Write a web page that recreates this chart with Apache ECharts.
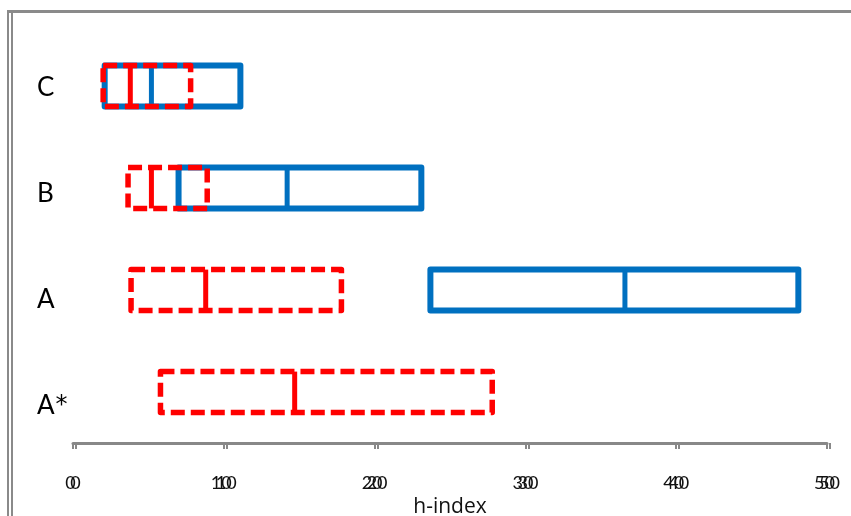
<!DOCTYPE html>
<html><head><meta charset="utf-8">
<script src="https://cdn.jsdelivr.net/npm/echarts@6/dist/echarts.min.js"></script>
<style>html,body{margin:0;padding:0;background:#fff}#c{width:851px;height:516px}</style>
</head><body><div id="c"></div>
<script>
const categories = ['A*', 'A', 'B', 'C'];
const xTicks = [0, 10, 20, 30, 40, 50];
// [q1, median, q3] per category (null = no box)
const blueBoxes = [null, [23.7, 36.6, 48.1], [7.0, 14.2, 23.1], [2.1, 5.2, 11.1]];
const redBoxes = [[5.8, 14.7, 27.8], [3.85, 8.8, 17.8], [3.65, 5.2, 8.9], [2.0, 3.8, 7.8]];

function toData(boxes) {
  const out = [];
  boxes.forEach((b, i) => { if (b) out.push([i, b[0], b[1], b[2]]); });
  return out;
}
function makeRender(color, dashed) {
  return function (params, api) {
    const ci = api.value(0);
    const p1 = api.coord([api.value(1), ci]);
    const pm = api.coord([api.value(2), ci]);
    const p3 = api.coord([api.value(3), ci]);
    const h = api.size([0, 1])[1] * 0.4;
    const style = { stroke: color, fill: null, lineWidth: dashed ? 5.5 : 6, lineDash: dashed ? [14, 6] : null, lineJoin: 'round' };
    return {
      type: 'group',
      children: [
        { type: 'rect', shape: { x: p1[0], y: p1[1] - h / 2, width: p3[0] - p1[0], height: h }, style: style },
        { type: 'line', shape: { x1: pm[0], y1: pm[1] - h / 2, x2: pm[0], y2: pm[1] + h / 2 }, style: Object.assign({}, style, { lineDash: null, lineWidth: 5 }) }
      ]
    };
  };
}
const labelFont = { margin: 31, fontFamily: 'Lato', fontSize: 18, color: '#111' };
const chart = echarts.init(document.getElementById('c'), null, { renderer: 'canvas' });
chart.setOption({
  animation: false,
  backgroundColor: '#fff',
  grid: [
    { left: 73, right: 24, top: 35, bottom: 73, outerBoundsMode: 'none', containLabel: false },
    { left: 73, right: 24, top: 34.5, bottom: 57.5, outerBoundsMode: 'none', containLabel: false }
  ],
  xAxis: [
    {
      type: 'value', min: 0, max: 50, interval: 10, gridIndex: 0,
      name: 'h-index', nameLocation: 'middle', nameGap: 47,
      nameTextStyle: { fontFamily: 'Open Sans', fontSize: 21, color: '#111' },
      axisLine: { show: true, lineStyle: { color: '#888', width: 3 } },
      axisTick: { show: true, length: 6, inside: false, lineStyle: { color: '#888', width: 2, shadowColor: '#888', shadowOffsetX: 3, shadowBlur: 0.5 } },
      axisLabel: Object.assign({ padding: [0, 5, 0, 0], formatter: v => xTicks.indexOf(v) >= 0 ? String(v) : '' }, labelFont),
      splitLine: { show: false }
    },
    {
      type: 'value', min: 0, max: 50, interval: 10, gridIndex: 0, position: 'bottom',
      axisLine: { show: false }, axisTick: { show: false },
      axisLabel: Object.assign({ padding: [0, 0, 0, 5], formatter: v => xTicks.indexOf(v) >= 0 ? String(v) : '' }, labelFont),
      splitLine: { show: false }
    },
    { type: 'value', min: 0, max: 50, gridIndex: 1, show: false }
  ],
  yAxis: [
    {
      type: 'category', data: categories, gridIndex: 0,
      axisLine: { show: false }, axisTick: { show: false }, axisLabel: { show: false },
      splitLine: { show: false }
    },
    {
      type: 'category', data: categories, gridIndex: 1,
      axisLine: { show: false }, axisTick: { show: false },
      axisLabel: {
        align: 'left', margin: 36, fontFamily: 'Lato', fontSize: 26, color: '#000',
        formatter: v => v.replace('*', '{s|*}'),
        rich: { s: { fontFamily: 'DejaVu Sans', fontSize: 24, color: '#000', padding: [0, 0, 0, 1] } }
      },
      splitLine: { show: false }
    }
  ],
  series: [
    { type: 'custom', xAxisIndex: 0, yAxisIndex: 0, renderItem: makeRender('#0070C0', false), data: toData(blueBoxes), encode: { x: [1, 2, 3], y: 0 }, z: 2 },
    { type: 'custom', xAxisIndex: 0, yAxisIndex: 0, renderItem: makeRender('#FF0000', true), data: toData(redBoxes), encode: { x: [1, 2, 3], y: 0 }, z: 3 }
  ],
  graphic: [
    { type: 'rect', shape: { x: 7, y: 10, width: 844, height: 3 }, style: { fill: '#8a8a8a' }, silent: true },
    { type: 'rect', shape: { x: 7, y: 10, width: 2, height: 506 }, style: { fill: '#8a8a8a' }, silent: true },
    { type: 'rect', shape: { x: 11, y: 13, width: 2, height: 503 }, style: { fill: '#8a8a8a' }, silent: true }
  ]
});
</script></body></html>
